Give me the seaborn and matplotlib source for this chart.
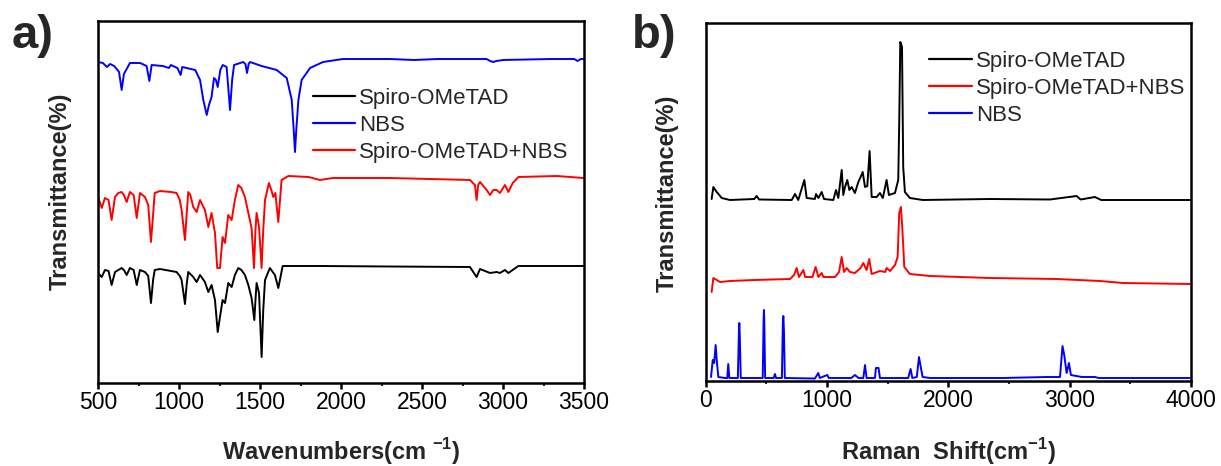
import numpy as np
import pandas as pd
import matplotlib
matplotlib.use("Agg")
import matplotlib.pyplot as plt
import seaborn as sns

# ---------------- data: FTIR (panel a) ----------------
ftir_nbs_x = [500, 530, 555, 575, 600, 630, 646, 660, 697, 760, 800, 817, 831, 900, 938, 950, 990, 1010, 1020,
              1100, 1130, 1150, 1171, 1185, 1201, 1216, 1228, 1239, 1255, 1270, 1294, 1315, 1328, 1340, 1396,
              1410, 1420, 1430, 1438, 1510, 1603, 1665, 1696, 1710, 1716, 1724, 1737, 1757, 1809, 1889, 2012,
              2300, 2450, 2600, 2899, 2920, 2940, 2960, 3000, 3300, 3440, 3460, 3480, 3500]
ftir_nbs_y = [321, 320, 316, 319, 317, 311, 293, 309, 320, 320, 317, 302, 318, 317, 315, 318, 315, 308, 316,
              313, 303, 283, 268, 278, 286, 305, 303, 296, 313, 318, 316, 273, 303, 318, 321,
              319, 310, 319, 321, 317, 313, 305, 283, 248, 231, 253, 283, 303, 315, 321, 324,
              324, 323, 324, 324, 322, 321, 322, 323, 324, 324, 322, 324, 324]

ftir_mix_x = [500, 523, 543, 565, 584, 605, 625, 646, 660, 677, 697, 720, 739, 759, 790, 810, 827, 840, 850, 883,
              950, 985, 1005, 1016, 1037, 1047, 1057, 1070, 1088, 1109, 1130, 1160, 1181, 1201, 1222, 1236,
              1253, 1269, 1284, 1304, 1325, 1345, 1366, 1385, 1407, 1428, 1448, 1463, 1472, 1479, 1494, 1510,
              1520, 1531, 1555, 1570, 1582, 1595, 1613, 1633, 1675, 1800, 1870, 1950, 2056, 2300, 2550, 2796,
              2827, 2837, 2847, 2858, 2899, 2920, 2940, 2961, 2981, 3012, 3033, 3060, 3095, 3332, 3496]
ftir_mix_y = [186, 175, 185, 183, 163, 186, 190, 191, 188, 181, 191, 188, 165, 190, 186, 178, 141, 168, 190, 192,
              191, 190, 183, 173, 143, 168, 191, 188, 176, 171, 183, 173, 156, 170, 150, 115,
              115, 146, 140, 168, 163, 183, 198, 195, 186, 170, 155, 115, 153, 170, 156, 115,
              153, 183, 200, 193, 186, 190, 161, 203, 207, 206, 203, 205, 205, 205, 204, 203,
              198, 183, 198, 201, 193, 188, 193, 193, 190, 198, 191, 200, 206, 207, 205]

ftir_spiro_x = [500, 523, 543, 565, 584, 605, 646, 660, 677, 697, 720, 739, 759, 790, 810, 827, 840, 850, 883,
                985, 1005, 1016, 1037, 1047, 1057, 1088, 1109, 1130, 1160, 1181, 1201, 1222, 1239, 1253, 1269,
                1284, 1304, 1325, 1345, 1366, 1385, 1407, 1428, 1448, 1465, 1472, 1479, 1494, 1510, 1520, 1531,
                1561, 1592, 1613, 1640, 1870, 2300, 2796, 2837, 2858, 2920, 2961, 2981, 3012, 3033, 3095, 3496]
ftir_spiro_y = [110, 106, 113, 112, 98, 111, 115, 113, 108, 115, 113, 98, 113, 111, 107, 80, 103, 113, 114,
                111, 107, 103, 79, 98, 111, 106, 101, 108, 101, 91, 98, 83, 51, 66, 83,
                80, 100, 96, 108, 115, 113, 108, 98, 85, 63, 83, 100, 90, 26, 73, 103,
                115, 108, 95, 117, 117, 116.5, 116, 106, 114, 110, 111, 110, 113, 110, 117, 117]

# ---------------- data: Raman (panel b) ----------------
raman_spiro_x = [49, 63, 91, 132, 200, 400, 420, 440, 709, 736, 763, 813, 832, 900, 909, 929, 956, 975, 1052,
                 1074, 1093, 1121, 1134, 1148, 1167, 1184, 1203, 1230, 1258, 1277, 1294, 1313, 1332, 1351, 1368,
                 1409, 1436, 1460, 1491, 1510, 1560, 1587, 1595, 1604, 1618, 1628, 1642, 1683, 1789, 2343, 2837,
                 3057, 3090, 3208, 3260, 3990]
raman_spiro_y = [182, 194, 189, 183, 181, 182, 185, 181.5, 181, 187, 181, 201, 183, 182, 187, 183, 189, 182, 181,
                 191, 183, 211, 186, 194, 201, 191, 194, 188, 199, 204, 209, 194, 195, 230, 184,
                 184, 188, 183, 201, 186, 188, 201, 258, 339, 334, 214, 189, 183, 181, 182, 181.5,
                 185, 181.5, 184, 181, 181]

raman_mix_x = [49, 63, 118, 200, 400, 695, 728, 750, 769, 805, 820, 880, 906, 929, 956, 970, 1066, 1099, 1121,
               1140, 1162, 1189, 1230, 1277, 1299, 1326, 1348, 1368, 1436, 1480, 1491, 1520, 1560, 1582, 1595,
               1609, 1620, 1637, 1683, 1848, 2343, 2892, 3249, 3441, 3990]
raman_mix_y = [89, 103, 99, 100, 101, 102, 106, 113, 104, 111, 104, 104, 114, 104, 108, 104, 104, 109, 124,
               109, 113, 109, 108, 113, 118, 111, 122, 107, 110, 109, 113, 110, 116, 124, 168,
               174, 154, 114, 107, 105, 103, 102, 100, 98, 97]

raman_nbs_x = [44, 58, 70, 82, 91, 104, 160, 178, 186, 195, 265, 274, 277, 281, 289, 470, 477, 480, 483, 490,
               560, 571, 580, 628, 636, 640, 645, 652, 900, 928, 940, 1002, 1015, 1200, 1230, 1260, 1299, 1313,
               1326, 1395, 1403, 1425, 1436, 1669, 1689, 1703, 1740, 1758, 1774, 1788, 1850, 2452, 2810, 2920,
               2935, 2941, 2955, 2975, 2994, 3010, 3100, 3208, 3240, 3990]
raman_nbs_y = [4, 21, 18, 36, 21, 4, 3, 3, 17, 3, 3, 50, 58, 45, 3, 3, 60, 71, 60, 3,
               3, 7, 3, 3, 58, 65, 50, 3, 2.5, 8, 3, 6, 3, 3, 6, 3, 3, 16,
               3, 3, 13, 13, 3, 3, 12, 3, 4, 24, 13, 4, 3, 3, 4, 4,
               26, 35, 26, 8, 18, 6, 4, 4, 3, 3]

ftir_ticks = [500, 1000, 1500, 2000, 2500, 3000, 3500]
raman_ticks = [0, 1000, 2000, 3000, 4000]

# ---------------- style ----------------
sns.set_style("ticks")
plt.rcParams["font.family"] = ["Liberation Sans", "DejaVu Sans"]
plt.rcParams["mathtext.fontset"] = "custom"
plt.rcParams["mathtext.rm"] = "Liberation Sans"
plt.rcParams["mathtext.bf"] = "Liberation Sans:bold"

W, H = 1221, 466
fig = plt.figure(figsize=(W / 100, H / 100), dpi=100)

ax_a = fig.add_axes([98 / W, 1 - 383 / H, (584 - 98) / W, (383 - 21) / H])
ax_b = fig.add_axes([705.7 / W, 1 - 381 / H, (1191 - 705.7) / W, (381 - 22.7) / H])

lw = 1.4
sns.lineplot(x=ftir_spiro_x, y=ftir_spiro_y, ax=ax_a, color="black", lw=lw, label="Spiro-OMeTAD",
             estimator=None, sort=False)
sns.lineplot(x=ftir_nbs_x, y=ftir_nbs_y, ax=ax_a, color="#0000ff", lw=lw, label="NBS",
             estimator=None, sort=False)
sns.lineplot(x=ftir_mix_x, y=ftir_mix_y, ax=ax_a, color="#ff0000", lw=lw, label="Spiro-OMeTAD+NBS",
             estimator=None, sort=False)

sns.lineplot(x=raman_spiro_x, y=raman_spiro_y, ax=ax_b, color="black", lw=lw, label="Spiro-OMeTAD",
             estimator=None, sort=False)
sns.lineplot(x=raman_mix_x, y=raman_mix_y, ax=ax_b, color="#ff0000", lw=lw, label="Spiro-OMeTAD+NBS",
             estimator=None, sort=False)
sns.lineplot(x=raman_nbs_x, y=raman_nbs_y, ax=ax_b, color="#0000ff", lw=lw, label="NBS",
             estimator=None, sort=False)

ax_a.set_xlim(500, 3500)
ax_a.set_ylim(0, 362)
ax_b.set_xlim(0, 4000)
ax_b.set_ylim(0, 358.3)

for ax, ticks in ((ax_a, ftir_ticks), (ax_b, raman_ticks)):
    ax.set_xticks(ticks)
    step = ticks[1] - ticks[0]
    ax.set_xticks([t + step / 2 for t in ticks[:-1]], minor=True)
    ax.set_yticks([])
    ax.set_xlabel("")
    ax.set_ylabel("")
    for s in ax.spines.values():
        s.set_visible(True)
        s.set_linewidth(1.8)
        s.set_color("black")
    ax.tick_params(axis="x", which="major", direction="out", length=4, width=1.8, pad=2,
                   labelsize=16.5, colors="black")
    ax.tick_params(axis="x", which="minor", direction="out", length=2.5, width=1.5)

leg_kw = dict(frameon=False, fontsize=16, handlelength=1.9, handletextpad=0.2,
              labelspacing=0.27, borderpad=0, borderaxespad=0, loc="upper left")
la = ax_a.legend(bbox_to_anchor=((312.7 - 98) / 486, (383 - 88) / 362), **leg_kw)
lb = ax_b.legend(bbox_to_anchor=((929.3 - 705.7) / 485.3, (381 - 51) / 358.3), **leg_kw)
for lg in (la, lb):
    for h in lg.get_lines():
        h.set_linewidth(1.6)

# labels
fig.text(12 / W, 1 - 36 / H, "a)", fontsize=34, fontweight="bold", ha="left", va="center")
fig.text(632 / W, 1 - 36 / H, "b)", fontsize=34, fontweight="bold", ha="left", va="center")
fig.text(60 / W, 1 - 191 / H, "Transmittance(%)", fontsize=17, fontweight="bold", rotation=90,
         ha="center", va="center")
fig.text(667 / W, 1 - 193 / H, "Transmittance(%)", fontsize=17, fontweight="bold", rotation=90,
         ha="center", va="center")
fig.text(341 / W, 1 - 460 / H, r"Wavenumbers(cm $^{\mathbf{-1}}$)", fontsize=17, fontweight="bold",
         ha="center", va="baseline")
fig.text(948.5 / W, 1 - 460 / H, r"Raman  Shift(cm$^{\mathbf{-1}}$)", fontsize=17, fontweight="bold",
         ha="center", va="baseline")

fig.savefig("out.png", dpi=100)
